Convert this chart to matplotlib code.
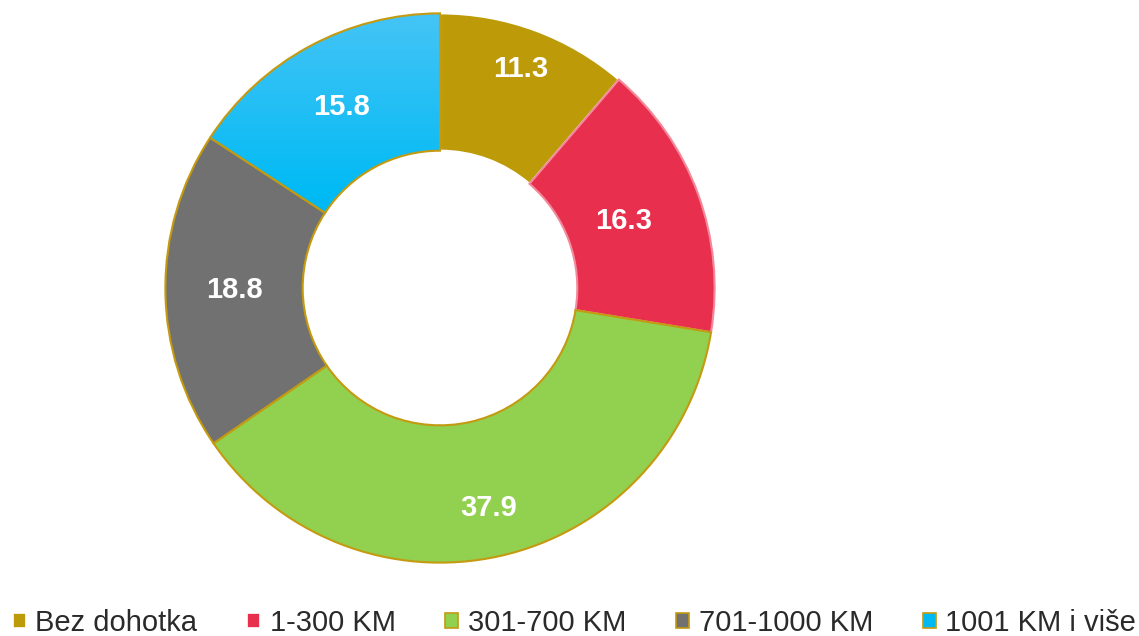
import numpy as np
import matplotlib
matplotlib.use('Agg')
import matplotlib.pyplot as plt
from matplotlib.patches import Patch
from matplotlib.colors import LinearSegmentedColormap

plt.rcParams['font.family'] = ['Liberation Sans', 'DejaVu Sans']

# data
categories = ['Bez dohotka', '1-300 KM', '301-700 KM', '701-1000 KM', '1001 KM i više']
values = [11.3, 16.3, 37.9, 18.8, 15.8]
labels = ['11.3', '16.3', '37.9', '18.8', '15.8']
colors = ['#BD9A08', '#E8304E', '#92D050', '#717171', '#00B9F2']
edges = ['white', '#F28A9B', '#C49A10', '#C49A10', '#C49A10']
label_r = [0.85, 0.71, 0.82, 0.75, 0.75]

fig = plt.figure(figsize=(11.39, 6.36), dpi=100)
ax = fig.add_axes([164 / 1139, 72 / 636, 552 / 1139, 552 / 636])

wedges, _ = ax.pie(values, colors=colors, startangle=90, counterclock=False,
                   radius=1, wedgeprops=dict(width=0.5, linewidth=1.5))
for w, ec in zip(wedges, edges):
    w.set_edgecolor(ec)

# vertical gradient on the last (cyan) slice
grad = np.linspace(0, 1, 256).reshape(-1, 1)
cmap = LinearSegmentedColormap.from_list('cy', ['#45C4F6', '#00BAF4', '#00B3EE', '#00A9E4'])
im = ax.imshow(grad, extent=[-1, 1, -1, 1], origin='upper', cmap=cmap,
               aspect='auto', zorder=wedges[-1].get_zorder() + 0.1)
im.set_clip_path(wedges[-1])
wedges[-1].set_zorder(im.get_zorder() + 0.1)
wedges[-1].set_facecolor('none')

for w, lab, r in zip(wedges, labels, label_r):
    ang = np.deg2rad((w.theta1 + w.theta2) / 2)
    ax.text(r * np.cos(ang), r * np.sin(ang), lab, ha='center', va='center',
            color='white', fontsize=21, fontweight='bold', zorder=10)

ax.set_xlim(-1.005, 1.005)
ax.set_ylim(-1.005, 1.005)
ax.set_aspect('equal')
ax.axis('off')

handles = [Patch(facecolor=c, edgecolor=('white' if i < 2 else '#C49A10'), linewidth=1.2)
           for i, c in enumerate(colors)]
leg = fig.legend(handles, categories, loc='center', bbox_to_anchor=(0.5 + 5 / 1139, 13 / 636),
                 ncol=5, frameon=False, fontsize=21, handlelength=0.45, handleheight=0.45,
                 handletextpad=0.33, columnspacing=1.7, labelcolor='#2A2A2A',
                 borderpad=0, borderaxespad=0)

fig.savefig('out.png', dpi=100)
